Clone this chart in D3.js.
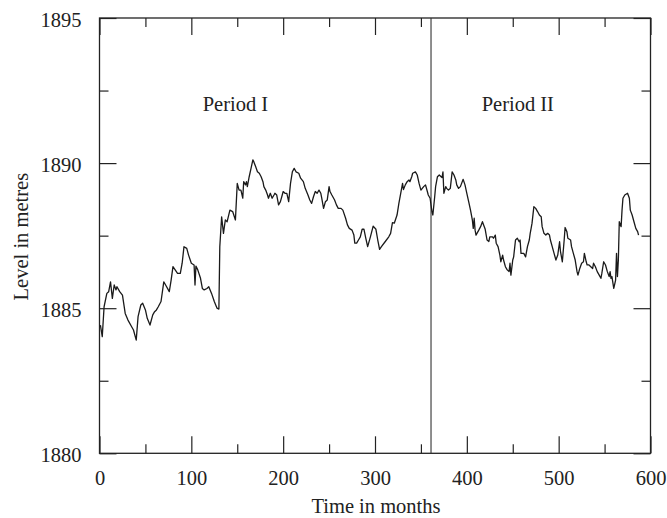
<!DOCTYPE html>
<meta charset="utf-8">
<style>
  body { margin: 0; background: #fff; }
  text { font-family: "Liberation Serif", "Times New Roman", serif; fill: #222; }
  .series { fill: none; stroke: #1a1a1a; stroke-width: 1.3; stroke-linejoin: round; }
  .axis path, .axis line { stroke: #222; stroke-width: 1.2; }
</style>
<body>
<script src="https://cdnjs.cloudflare.com/ajax/libs/d3/7.8.5/d3.min.js"></script>
<script>
// monthly lake level readings (month index, level in metres)
var months = [1,3,5,8,10,12,14,16,18,19,22,25,28,31,35,37,40,42,45,47,50,52,55,58,60,62,64,67,70,72,76,78,80,85,88,90,92,95,97,100,103,104,105,107,110,112,114,117,119,122,125,128,130,
  131,133,135,137,139,142,145,148,150,152,154,156,157,159,160,161,163,165,167,168,170,172,174,176,178,179,181,183,184,186,188,190,191,193,195,197,199,200,202,204,206,208,210,212,214,217,219,222,224,227,229,231,233,235,237,239,241,242,244,246,248,250,251,253,256,258,260,
  263,265,268,270,272,275,277,278,280,282,284,286,288,290,292,295,298,301,303,305,307,311,315,317,319,321,324,326,329,330,331,333,335,337,338,340,341,344,346,348,350,353,355,357,358,360,362,363,365,366,368,370,372,373,374,375,377,378,380,382,384,386,388,389,391,
  393,396,398,400,402,404,406,407,408,409,410,413,415,417,419,420,422,424,425,428,429,431,432,434,436,437,439,440,442,444,446,447,448,450,451,453,455,457,458,459,462,464,466,468,469,470,471,473,475,477,479,481,482,484,486,488,490,491,493,495,497,499,501,502,504,506,507,509,510,513,514,516,518,520,521,523,525,527,528,
  530,531,533,535,537,538,540,542,544,546,547,549,551,553,555,556,557,558,560,562,563,564,565,566,568,569,570,572,575,577,578,580,582,584,586,587];

var levels = [1884.42,1884.02,1885.05,1885.51,1885.57,1885.91,1885.34,1885.8,1885.63,1885.74,1885.57,1885.45,1884.82,1884.59,1884.36,1884.25,1883.9,1884.71,1885.11,1885.17,1884.94,1884.65,1884.42,1884.77,1884.88,1884.94,1885.05,1885.23,1885.91,1885.8,1885.57,1885.97,1886.43,1886.2,1886.2,1886.55,1887.12,1887.06,1886.83,1886.55,1886.49,1885.8,1886.45,1886.32,1886.03,1885.68,1885.63,1885.68,1885.74,1885.51,1885.23,1885.0,1884.97,
  1887.12,1888.15,1887.58,1888.04,1887.98,1888.38,1888.33,1888.04,1889.3,1889.07,1889.07,1888.79,1889.36,1889.25,1889.36,1889.19,1889.53,1889.82,1890.11,1890.05,1889.88,1889.7,1889.65,1889.53,1889.36,1889.19,1889.07,1888.9,1888.79,1888.96,1888.79,1888.9,1888.96,1888.9,1888.56,1888.67,1888.9,1889.02,1888.96,1888.96,1888.67,1889.3,1889.7,1889.82,1889.7,1889.65,1889.48,1889.36,1889.13,1888.9,1888.73,1888.61,1888.84,1889.02,1888.96,1889.07,1888.96,1888.79,1888.44,1888.67,1888.73,1889.19,1889.02,1888.9,1888.73,1888.56,1888.44,
  1888.44,1888.38,1888.1,1887.87,1887.75,1887.69,1887.52,1887.24,1887.24,1887.35,1887.46,1887.72,1887.72,1887.41,1887.12,1887.46,1887.83,1887.72,1887.35,1887.03,1887.12,1887.29,1887.46,1887.58,1887.95,1887.93,1888.21,1888.61,1889.13,1889.3,1889.09,1889.25,1889.36,1889.42,1889.36,1889.53,1889.65,1889.7,1889.59,1889.3,1889.07,1889.19,1889.25,1889.02,1888.9,1888.79,1888.33,1888.21,1888.84,1889.19,1889.53,1889.59,1889.53,1889.5,1889.7,1888.96,1889.19,1889.13,1889.07,1889.13,1889.7,1889.59,1889.42,1889.25,1889.13,
  1889.19,1889.44,1889.25,1888.96,1888.67,1888.38,1888.04,1887.75,1888.1,1887.69,1887.52,1887.69,1887.81,1887.98,1887.81,1887.72,1887.35,1887.3,1887.46,1887.46,1887.41,1887.52,1887.24,1887.12,1886.83,1886.6,1886.83,1886.66,1886.43,1886.32,1886.26,1886.55,1886.14,1886.66,1886.77,1887.35,1887.41,1887.29,1887.35,1886.89,1886.89,1886.77,1887.12,1887.35,1887.58,1887.75,1887.93,1888.5,1888.44,1888.33,1888.21,1888.15,1887.81,1887.58,1887.52,1887.58,1887.52,1887.35,1887.12,1886.89,1886.66,1886.83,1887.29,1886.95,1886.6,1887.35,1887.78,1887.63,1887.41,1887.35,1887.12,1886.89,1886.66,1886.26,1886.14,1886.37,1886.55,1886.6,1886.89,
  1886.6,1886.49,1886.49,1886.43,1886.37,1886.55,1886.43,1886.26,1886.15,1886.03,1886.2,1886.6,1886.49,1886.26,1886.09,1886.26,1886.03,1886.09,1885.68,1885.97,1886.89,1886.09,1886.66,1887.98,1887.81,1888.38,1888.79,1888.9,1888.96,1888.79,1888.38,1888.21,1887.98,1887.75,1887.64,1887.52];

var xMajor = [0, 100, 200, 300, 400, 500, 600];
var xMinor = [50, 150, 250, 350, 450, 550];
var yMajor = [1880, 1885, 1890, 1895];
var yMinor = [1882.5, 1887.5, 1892.5];

var periodSplit = 361;
var periodNames = ["Period I", "Period II"];

var width = 667, height = 518;
var margin = {top: 18, right: 16.5, bottom: 64.7, left: 99.5};
var innerW = width - margin.left - margin.right,
    innerH = height - margin.top - margin.bottom;

var x = d3.scaleLinear().domain([0, 600]).range([0, innerW]);
var y = d3.scaleLinear().domain([1880, 1895]).range([innerH, 0]);

var svg = d3.select("body").append("svg")
    .attr("width", width)
    .attr("height", height)
  .append("g")
    .attr("transform", "translate(" + margin.left + "," + margin.top + ")");

var fs = "20.5px";

// ticks point inward on all four sides; only bottom and left get labels
function addAxis(axisFn, scale, values, size, pos, pad, dy) {
  var a = axisFn(scale).tickValues(values).tickSizeInner(-size).tickSizeOuter(0);
  if (pad == null) a.tickFormat("");
  else a.tickPadding(pad).tickFormat(d3.format("d"));
  var g = svg.append("g").attr("class", "axis").attr("transform", pos).call(a);
  g.select(".domain").remove();
  if (dy) g.selectAll("text").attr("dy", dy).style("font-size", fs);
  return g;
}

var atBottom = "translate(0," + innerH + ")",
    atTop = "translate(0,0)",
    atRight = "translate(" + innerW + ",0)";

addAxis(d3.axisBottom, x, xMajor, 17, atBottom, 17.5, "0.71em");
addAxis(d3.axisBottom, x, xMinor, 9, atBottom);
addAxis(d3.axisTop, x, xMajor, 17, atTop);
addAxis(d3.axisTop, x, xMinor, 9, atTop);

addAxis(d3.axisLeft, y, yMajor, 17, atTop, 18, "0.42em");
addAxis(d3.axisLeft, y, yMinor, 9, atTop);
addAxis(d3.axisRight, y, yMajor, 17, atRight);
addAxis(d3.axisRight, y, yMinor, 9, atRight);

// frame
svg.append("rect")
    .attr("width", innerW)
    .attr("height", innerH)
    .style("fill", "none")
    .style("stroke", "#222")
    .style("stroke-width", 1.3);

// split between the two periods
svg.append("line")
    .attr("x1", x(periodSplit)).attr("x2", x(periodSplit))
    .attr("y1", 0).attr("y2", innerH)
    .style("stroke", "#333")
    .style("stroke-width", 1.1);

var line = d3.line()
    .x(function(d) { return x(d[0]); })
    .y(function(d) { return y(d[1]); });

svg.append("path")
    .datum(d3.zip(months, levels))
    .attr("class", "series")
    .attr("d", line);

svg.append("text")
    .attr("x", x(148)).attr("y", y(1891.8))
    .attr("text-anchor", "middle")
    .style("font-size", fs)
    .text(periodNames[0]);

svg.append("text")
    .attr("x", x(455.5)).attr("y", y(1891.8))
    .attr("text-anchor", "middle")
    .style("font-size", fs)
    .text(periodNames[1]);

svg.append("text")
    .attr("x", innerW / 2 + 1)
    .attr("y", innerH + 60)
    .attr("text-anchor", "middle")
    .style("font-size", fs)
    .text("Time in months");

svg.append("text")
    .attr("transform", "translate(" + (27.5 - margin.left) + "," + (innerH / 2 + 1) + ") rotate(-90)")
    .attr("text-anchor", "middle")
    .style("font-size", fs)
    .text("Level in metres");
</script>
</body>
</html>
